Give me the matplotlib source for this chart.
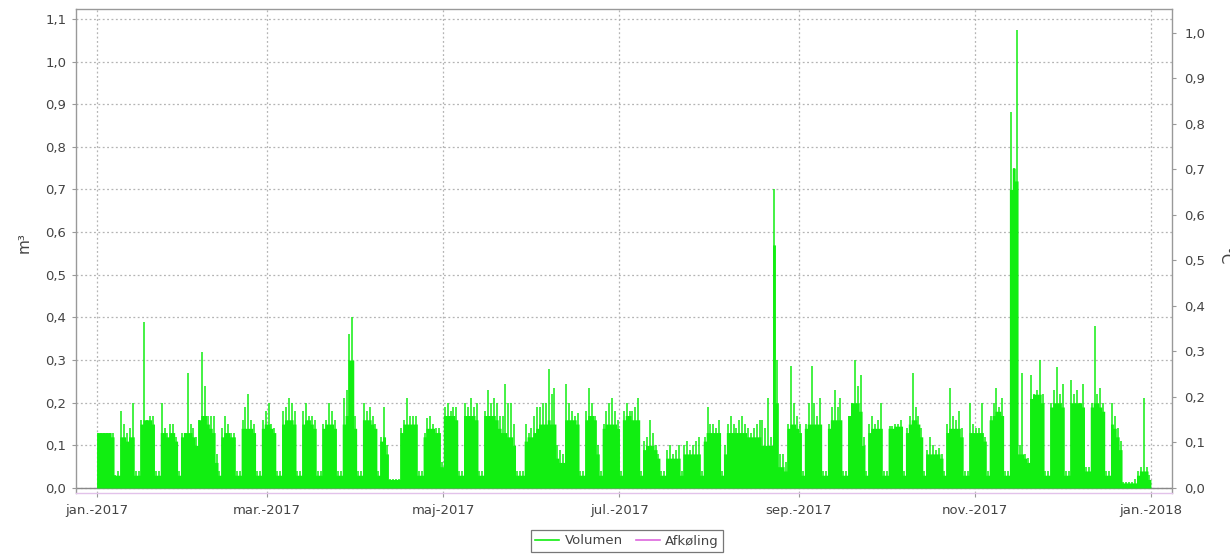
import datetime as dt

import matplotlib
matplotlib.use("Agg")
import matplotlib.dates as mdates
import matplotlib.pyplot as plt
import numpy as np
from matplotlib.lines import Line2D

# ---------------------------------------------------------------------------
# Data: daily volume 2017 (m³). One row per week, first row starts 1 Jan 2017.
# volumen_level = typical hourly level during the day (dense band)
# volumen_peak  = highest hourly value of the day
# ---------------------------------------------------------------------------
year_start = dt.date(2017, 1, 1)

volumen_level = [
    0.13, 0.13, 0.13, 0.13, 0.13, 0.12, 0.03,
    0.03, 0.12, 0.12, 0.11, 0.12, 0.12, 0.03,
    0.03, 0.15, 0.16, 0.16, 0.16, 0.15, 0.03,
    0.03, 0.13, 0.13, 0.12, 0.13, 0.13, 0.11,
    0.03, 0.12, 0.13, 0.13, 0.13, 0.12, 0.10,
    0.16, 0.17, 0.17, 0.15, 0.14, 0.13, 0.06,
    0.03, 0.12, 0.13, 0.13, 0.12, 0.12, 0.03,
    0.03, 0.14, 0.14, 0.14, 0.14, 0.13, 0.03,
    0.03, 0.14, 0.15, 0.15, 0.14, 0.13, 0.03,
    0.03, 0.15, 0.16, 0.16, 0.16, 0.15, 0.03,
    0.03, 0.15, 0.16, 0.16, 0.15, 0.14, 0.03,
    0.03, 0.14, 0.15, 0.15, 0.15, 0.14, 0.03,
    0.03, 0.15, 0.17, 0.30, 0.30, 0.14, 0.03,
    0.03, 0.16, 0.16, 0.16, 0.15, 0.14, 0.03,
    0.11, 0.12, 0.08, 0.02, 0.02, 0.02, 0.02,
    0.13, 0.15, 0.15, 0.15, 0.15, 0.15, 0.03,
    0.03, 0.12, 0.14, 0.14, 0.14, 0.13, 0.13,
    0.05, 0.17, 0.17, 0.17, 0.17, 0.16, 0.03,
    0.03, 0.17, 0.17, 0.17, 0.17, 0.16, 0.03,
    0.03, 0.17, 0.17, 0.17, 0.17, 0.16, 0.14,
    0.13, 0.13, 0.12, 0.12, 0.10, 0.03, 0.03,
    0.03, 0.11, 0.12, 0.12, 0.13, 0.14, 0.15,
    0.15, 0.15, 0.16, 0.15, 0.15, 0.07, 0.06,
    0.06, 0.16, 0.16, 0.16, 0.16, 0.15, 0.03,
    0.03, 0.16, 0.17, 0.17, 0.16, 0.08, 0.03,
    0.14, 0.15, 0.15, 0.15, 0.15, 0.14, 0.03,
    0.16, 0.17, 0.17, 0.16, 0.16, 0.16, 0.03,
    0.09, 0.10, 0.10, 0.10, 0.09, 0.07, 0.03,
    0.03, 0.07, 0.07, 0.07, 0.07, 0.07, 0.03,
    0.08, 0.08, 0.08, 0.08, 0.08, 0.08, 0.03,
    0.11, 0.13, 0.13, 0.13, 0.13, 0.13, 0.03,
    0.08, 0.13, 0.13, 0.13, 0.13, 0.13, 0.13,
    0.13, 0.12, 0.12, 0.12, 0.12, 0.12, 0.10,
    0.10, 0.10, 0.10, 0.57, 0.20, 0.05, 0.05,
    0.04, 0.14, 0.15, 0.15, 0.14, 0.13, 0.03,
    0.14, 0.15, 0.15, 0.15, 0.15, 0.15, 0.03,
    0.03, 0.14, 0.16, 0.16, 0.16, 0.16, 0.03,
    0.03, 0.17, 0.20, 0.20, 0.20, 0.18, 0.10,
    0.03, 0.13, 0.14, 0.14, 0.14, 0.14, 0.03,
    0.03, 0.14, 0.14, 0.145, 0.145, 0.145, 0.03,
    0.13, 0.15, 0.16, 0.16, 0.15, 0.12, 0.03,
    0.08, 0.08, 0.08, 0.08, 0.08, 0.07, 0.03,
    0.13, 0.14, 0.14, 0.14, 0.14, 0.12, 0.03,
    0.03, 0.13, 0.13, 0.13, 0.13, 0.13, 0.11,
    0.03, 0.16, 0.17, 0.18, 0.18, 0.17, 0.03,
    0.03, 0.70, 0.75, 0.72, 0.08, 0.08, 0.07,
    0.06, 0.21, 0.22, 0.22, 0.22, 0.20, 0.03,
    0.03, 0.19, 0.20, 0.20, 0.20, 0.19, 0.03,
    0.03, 0.20, 0.20, 0.20, 0.20, 0.19, 0.04,
    0.04, 0.19, 0.20, 0.20, 0.19, 0.18, 0.03,
    0.03, 0.15, 0.14, 0.12, 0.09, 0.012, 0.012,
    0.012, 0.012, 0.012, 0.03, 0.04, 0.04, 0.04,
    0.02,
]

volumen_peak = [
    0.13, 0.13, 0.13, 0.13, 0.13, 0.13, 0.03,
    0.04, 0.18, 0.15, 0.13, 0.14, 0.20, 0.04,
    0.04, 0.16, 0.39, 0.16, 0.17, 0.17, 0.04,
    0.04, 0.20, 0.14, 0.13, 0.15, 0.15, 0.12,
    0.04, 0.13, 0.13, 0.27, 0.15, 0.14, 0.12,
    0.16, 0.32, 0.24, 0.17, 0.17, 0.17, 0.08,
    0.04, 0.14, 0.17, 0.15, 0.13, 0.13, 0.04,
    0.04, 0.16, 0.19, 0.22, 0.16, 0.15, 0.04,
    0.04, 0.16, 0.18, 0.20, 0.15, 0.14, 0.04,
    0.04, 0.18, 0.19, 0.21, 0.20, 0.18, 0.04,
    0.04, 0.18, 0.20, 0.17, 0.17, 0.16, 0.04,
    0.04, 0.15, 0.16, 0.20, 0.18, 0.16, 0.04,
    0.04, 0.21, 0.23, 0.36, 0.40, 0.17, 0.04,
    0.04, 0.20, 0.18, 0.19, 0.17, 0.15, 0.04,
    0.12, 0.19, 0.10, 0.02, 0.02, 0.02, 0.02,
    0.14, 0.16, 0.21, 0.17, 0.17, 0.17, 0.04,
    0.04, 0.13, 0.165, 0.17, 0.15, 0.14, 0.14,
    0.06, 0.19, 0.20, 0.18, 0.19, 0.19, 0.04,
    0.04, 0.20, 0.19, 0.21, 0.19, 0.20, 0.04,
    0.04, 0.18, 0.23, 0.20, 0.21, 0.20, 0.17,
    0.17, 0.245, 0.20, 0.20, 0.15, 0.04, 0.04,
    0.04, 0.15, 0.13, 0.14, 0.17, 0.19, 0.19,
    0.20, 0.20, 0.28, 0.22, 0.235, 0.10, 0.09,
    0.08, 0.245, 0.20, 0.18, 0.17, 0.175, 0.04,
    0.04, 0.18, 0.234, 0.20, 0.17, 0.10, 0.04,
    0.15, 0.18, 0.20, 0.21, 0.18, 0.16, 0.04,
    0.18, 0.20, 0.18, 0.18, 0.19, 0.21, 0.04,
    0.11, 0.12, 0.16, 0.13, 0.10, 0.08, 0.04,
    0.04, 0.09, 0.10, 0.08, 0.09, 0.10, 0.04,
    0.10, 0.11, 0.09, 0.10, 0.11, 0.12, 0.04,
    0.12, 0.19, 0.15, 0.15, 0.14, 0.16, 0.04,
    0.10, 0.15, 0.17, 0.15, 0.14, 0.16, 0.17,
    0.15, 0.14, 0.13, 0.14, 0.15, 0.16, 0.16,
    0.14, 0.21, 0.12, 0.70, 0.30, 0.08, 0.08,
    0.06, 0.15, 0.285, 0.20, 0.17, 0.15, 0.04,
    0.15, 0.20, 0.285, 0.20, 0.17, 0.21, 0.04,
    0.04, 0.15, 0.19, 0.23, 0.19, 0.21, 0.04,
    0.04, 0.17, 0.20, 0.30, 0.24, 0.265, 0.12,
    0.04, 0.15, 0.17, 0.15, 0.16, 0.20, 0.04,
    0.04, 0.145, 0.145, 0.15, 0.15, 0.16, 0.04,
    0.14, 0.17, 0.27, 0.19, 0.17, 0.14, 0.04,
    0.09, 0.12, 0.10, 0.09, 0.093, 0.08, 0.04,
    0.15, 0.234, 0.17, 0.16, 0.18, 0.14, 0.04,
    0.04, 0.20, 0.15, 0.14, 0.14, 0.20, 0.12,
    0.04, 0.17, 0.20, 0.234, 0.19, 0.21, 0.04,
    0.04, 0.882, 0.75, 1.074, 0.10, 0.27, 0.08,
    0.07, 0.265, 0.22, 0.23, 0.30, 0.22, 0.04,
    0.04, 0.20, 0.23, 0.284, 0.22, 0.245, 0.04,
    0.04, 0.253, 0.22, 0.23, 0.20, 0.245, 0.05,
    0.05, 0.20, 0.38, 0.22, 0.234, 0.20, 0.04,
    0.04, 0.20, 0.17, 0.14, 0.11, 0.015, 0.015,
    0.015, 0.015, 0.02, 0.04, 0.05, 0.21, 0.05,
    0.03,
]

month_ticks = ["2017-01-01", "2017-03-01", "2017-05-01", "2017-07-01",
               "2017-09-01", "2017-11-01", "2018-01-01"]
month_labels = ["jan.-2017", "mar.-2017", "maj-2017", "jul.-2017",
                "sep.-2017", "nov.-2017", "jan.-2018"]
volume_ticks = [0.0, 0.1, 0.2, 0.3, 0.4, 0.5, 0.6, 0.7, 0.8, 0.9, 1.0, 1.1]
temp_ticks = [0.0, 0.1, 0.2, 0.3, 0.4, 0.5, 0.6, 0.7, 0.8, 0.9, 1.0]
series_names = ["Volumen", "Afkøling"]

# ---------------------------------------------------------------------------
GREEN = "#11ee11"
MAGENTA = "#dd66dd"
GRID = "#b4b4b4"
TEXT = "#444444"

plt.rcParams["font.family"] = ["DejaVu Sans"]
fig = plt.figure(figsize=(12.3, 5.57), dpi=100)
fig.patch.set_facecolor("white")

W, H = 1230, 557
left, right, top, bottom = 76, 1172, 9, 493
ax = fig.add_axes([left / W, 1 - bottom / H, (right - left) / W, (bottom - top) / H])

base = mdates.date2num(year_start)
n = len(volumen_level)
x_edges = base + np.arange(n + 1)
x_mid = base + np.arange(n) + 0.5
level_steps = np.append(volumen_level, volumen_level[-1])

ax.fill_between(x_edges, 0, level_steps, step="post", color=GREEN, lw=0, zorder=3)
ax.vlines(x_mid, 0, volumen_peak, color=GREEN, lw=1.1, zorder=3)

ax.set_xlim(base - 7.17, base + 372.3)
ax.set_ylim(-0.0117, 1.1231)

tick_pos = [mdates.date2num(dt.date.fromisoformat(d)) for d in month_ticks]
ax.set_xticks(tick_pos)
ax.set_xticklabels(month_labels)
ax.set_yticks(volume_ticks)
ax.set_yticklabels([f"{v:.1f}".replace(".", ",") for v in volume_ticks])

ax.grid(True, color=GRID, linestyle=(0, (1.5, 2.0)), linewidth=0.9, zorder=1)
ax.axhline(0, color="#888888", lw=1.0, zorder=2)

for side in ("left", "top", "right"):
    ax.spines[side].set_color("#999999")
    ax.spines[side].set_linewidth(1.0)
ax.spines["bottom"].set_color("#e2c2ea")
ax.spines["bottom"].set_linewidth(1.0)

ax.tick_params(axis="both", colors="#999999", labelcolor=TEXT, labelsize=9.5,
               length=3, width=0.8)
ax.tick_params(axis="x", pad=5)
ax.tick_params(axis="y", pad=4)

ax2 = ax.twinx()
ax2.set_ylim(-0.011, 1.0527)
ax2.set_yticks(temp_ticks)
ax2.set_yticklabels([f"{v:.1f}".replace(".", ",") for v in temp_ticks])
ax2.tick_params(axis="y", colors="#999999", labelcolor=TEXT, labelsize=9.5,
                length=3, width=0.8, pad=6)
for side in ("left", "top", "right", "bottom"):
    ax2.spines[side].set_visible(False)

fig.text(24 / W, 1 - 243 / H, "m³", rotation=90, ha="center", va="center",
         color=TEXT, fontsize=11)
fig.text(1224 / W, 1 - 256 / H, "°C", rotation=-90, ha="center", va="center",
         color=TEXT, fontsize=11)

handles = [Line2D([], [], color=GREEN, lw=1.2),
           Line2D([], [], color=MAGENTA, lw=1.2)]
leg = fig.legend(handles, series_names, loc="center",
                 bbox_to_anchor=(627 / W, 1 - 541 / H), ncol=2, frameon=True,
                 fancybox=False, fontsize=9.5, handlelength=1.8,
                 handletextpad=0.4, columnspacing=1.0, borderpad=0.35,
                 labelcolor=TEXT)
leg.get_frame().set_edgecolor("#555555")
leg.get_frame().set_linewidth(0.9)

fig.savefig("out.png", dpi=100, facecolor="white")
